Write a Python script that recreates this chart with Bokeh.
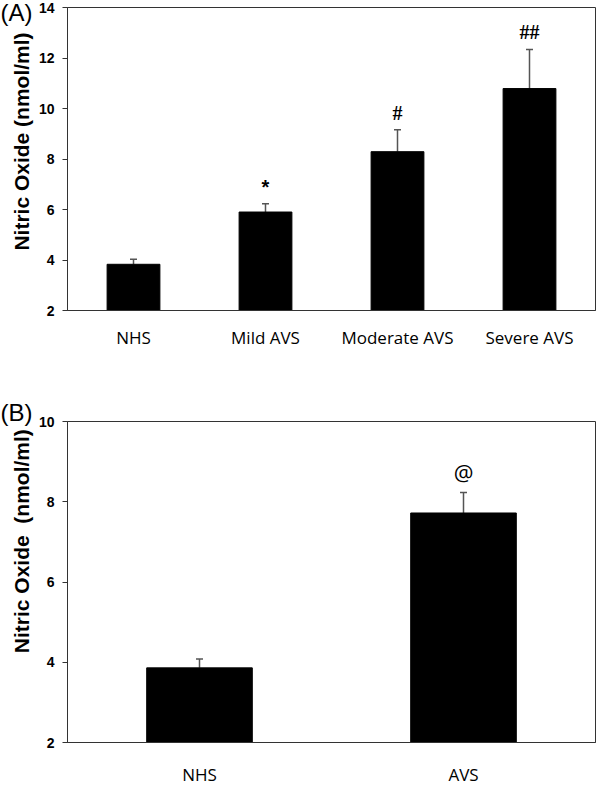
from bokeh.plotting import figure
from bokeh.models import FactorRange, Range1d, FixedTicker, Whisker, ColumnDataSource, Title, TeeHead
from bokeh.layouts import column
from bokeh.embed import file_html
from bokeh.resources import INLINE

# ---- data: panel A ----
groups_a = ["NHS", "Mild AVS", "Moderate AVS", "Severe AVS"]
no_a = [3.83, 5.90, 8.29, 10.79]
err_a = [0.20, 0.33, 0.87, 1.55]
marks_a = ["", "*", "#", "##"]
yticks_a = [2, 4, 6, 8, 10, 12, 14]

# ---- data: panel B ----
groups_b = ["NHS", "AVS"]
no_b = [3.86, 7.72]
err_b = [0.22, 0.51]
marks_b = ["", "@"]
yticks_b = [2, 4, 6, 8, 10]

FIG_W = 600
MB_LEFT = 67
NB = "\u00a0"


def panel(groups, vals, errs, marks, mark_fonts, mark_sizes, mark_styles,
          y_end, yticks, height, mbt, mbb, mbr, letter, letter_standoff,
          ylabel, xlab_standoff):
    upper = [v + e for v, e in zip(vals, errs)]
    src = ColumnDataSource(dict(x=groups, top=vals, upper=upper, mark=marks,
                                font=mark_fonts, size=mark_sizes, style=mark_styles))
    p = figure(x_range=FactorRange(*groups, range_padding=0),
               y_range=Range1d(2, y_end),
               width=FIG_W, height=height, output_backend="svg",
               toolbar_location=None,
               min_border_left=MB_LEFT, min_border_right=mbr,
               min_border_top=mbt, min_border_bottom=mbb)
    p.background_fill_color = "white"
    p.border_fill_color = "white"
    p.outline_line_color = "#333333"
    p.outline_line_width = 1
    p.xgrid.grid_line_color = None
    p.ygrid.grid_line_color = None

    p.vbar(x="x", top="top", bottom=2, width=0.4, source=src,
           fill_color="black", line_color="black")
    wk = Whisker(base="x", upper="upper", lower="top", source=src,
                 dimension="height", line_color="#555555", line_width=1.5,
                 upper_head=TeeHead(size=7, line_color="#555555", line_width=1.5),
                 lower_head=None)
    p.add_layout(wk)
    p.text(x="x", y="upper", text="mark", source=src,
           text_font="font", text_font_size="size", text_font_style="style",
           text_align="center", text_baseline="bottom", y_offset=-6,
           text_color="black")

    # y axis
    ya = p.yaxis[0]
    ya.ticker = FixedTicker(ticks=yticks)
    ya.major_tick_out = 5
    ya.major_tick_in = 0
    ya.minor_tick_line_color = None
    ya.axis_line_color = "#333333"
    ya.major_tick_line_color = "#333333"
    ya.major_label_text_font = "Liberation Sans"
    ya.major_label_text_font_style = "bold"
    ya.major_label_text_font_size = "14px"
    ya.major_label_text_color = "black"
    ya.major_label_standoff = 8
    ya.axis_label = ylabel
    ya.axis_label_text_font = "Liberation Sans"
    ya.axis_label_text_font_style = "bold"
    ya.axis_label_text_font_size = "21px"
    ya.axis_label_text_color = "black"
    ya.axis_label_standoff = 3

    # x axis
    xa = p.xaxis[0]
    xa.axis_line_color = "#333333"
    xa.major_tick_line_color = None
    xa.major_tick_out = 0
    xa.major_tick_in = 0
    xa.minor_tick_line_color = None
    xa.major_label_text_font = "Open Sans"
    xa.major_label_text_font_size = "17px"
    xa.major_label_text_color = "black"
    xa.major_label_standoff = xlab_standoff

    # panel letter
    p.add_layout(Title(text=letter, align="left", offset=-MB_LEFT,
                       standoff=letter_standoff, text_font="Liberation Sans",
                       text_font_size="24px", text_font_style="normal",
                       text_color="black"), "above")
    return p


pa = panel(groups_a, no_a, err_a, marks_a,
           ["Liberation Sans", "Liberation Sans", "Liberation Serif", "Liberation Serif"],
           ["20px", "20px", "20px", "20px"],
           ["bold", "bold", "bold", "bold"],
           14, yticks_a, 365, 7, 55, 5, "(A)", -36,
           NB * 6 + "Nitric Oxide (nmol/ml)", 15)

pb = panel(groups_b, no_b, err_b, marks_b,
           ["Open Sans", "Open Sans"],
           ["22px", "22px"],
           ["normal", "normal"],
           10, yticks_b, 423, 56, 44, 1, "(B)", -9,
           NB * 14 + "Nitric Oxide" + NB + NB + "(nmol/ml)", 20)

layout = column(pa, pb)
open("out.html", "w").write(file_html(layout, INLINE))
